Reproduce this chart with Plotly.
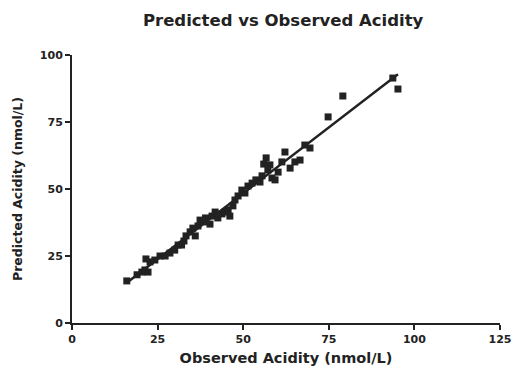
import numpy as np
import plotly.graph_objects as go

observed = [16.0, 19.0, 20.4, 21.3, 22.2, 21.6, 22.8, 24.2, 25.7, 27.2, 28.6, 30.0, 31.0, 32.0,
            32.7, 33.3, 34.5, 36.0, 35.3, 36.8, 37.4, 38.6, 39.0, 40.3, 40.9, 41.8, 42.6, 43.8,
            44.7, 45.6, 46.1, 47.0, 47.6, 48.5, 49.6, 50.5, 51.4, 52.6, 53.7, 54.9, 55.5, 56.0,
            56.7, 57.2, 57.8, 58.4, 59.3, 60.2, 61.3, 62.2, 63.7, 65.1, 66.6, 68.0, 69.5, 74.8,
            79.1, 93.7, 95.2]
predicted = [15.7, 18.0, 19.0, 19.8, 19.0, 23.9, 22.8, 23.5, 25.0, 25.0, 26.1, 27.2, 29.1, 29.1,
             30.6, 32.5, 34.0, 32.5, 35.4, 36.2, 38.4, 37.7, 39.2, 36.9, 39.9, 41.4, 39.2, 40.7,
             41.4, 42.2, 39.9, 43.7, 45.9, 47.4, 49.6, 48.5, 51.1, 52.2, 53.4, 52.6, 54.9, 59.3,
             61.6, 57.1, 59.0, 54.1, 53.4, 56.3, 60.1, 63.8, 57.8, 60.1, 60.8, 66.4, 65.3, 76.9,
             84.7, 91.4, 87.3]

x_ticks = [0, 25, 50, 75, 100, 125]
y_ticks = [0, 25, 50, 75, 100]

slope, intercept = np.polyfit(observed, predicted, 1)
fit_x = [min(observed), max(observed)]
fit_y = [slope * v + intercept for v in fit_x]

ink = "#222222"
font = dict(family="DejaVu Sans, Verdana, sans-serif", color=ink, weight="bold")

fig = go.Figure()
fig.add_trace(go.Scatter(x=observed, y=predicted, mode="markers",
                         marker=dict(symbol="square", size=7, color=ink),
                         showlegend=False, cliponaxis=False))
fig.add_trace(go.Scatter(x=fit_x, y=fit_y, mode="lines",
                         line=dict(color=ink, width=2.5), showlegend=False))

fig.update_layout(
    width=512, height=374,
    margin=dict(l=72, r=12, t=55, b=51, autoexpand=False),
    paper_bgcolor="white", plot_bgcolor="white",
    title=dict(text="Predicted vs Observed Acidity", x=0.553, xanchor="center",
               y=0.9465, yanchor="middle", font=dict(size=16.5, **font)),
    font=font,
)
fig.update_xaxes(range=[0, 125], tickvals=x_ticks, ticktext=[str(v) for v in x_ticks],
                 showline=True, linecolor=ink, linewidth=2, ticks="outside",
                 ticklen=5, tickwidth=2, tickcolor=ink, showgrid=False, zeroline=False,
                 automargin=False, ticklabeloverflow="allow", tickfont=dict(size=11, **font),
                 title=dict(text="Observed Acidity (nmol/L)", font=dict(size=14.5, **font),
                            standoff=8))
fig.update_yaxes(range=[0, 100], tickvals=y_ticks, ticktext=[str(v) for v in y_ticks],
                 showline=True, linecolor=ink, linewidth=2, ticks="outside",
                 ticklen=5, tickwidth=2, tickcolor=ink, showgrid=False, zeroline=False,
                 automargin=False, tickfont=dict(size=11, **font),
                 title=dict(text="Predicted Acidity (nmol/L)", font=dict(size=12.5, **font),
                            standoff=14))

fig.write_html("out.html", config={"displayModeBar": False},
               post_script="document.body.style.margin='0';document.body.style.overflow='hidden';")
